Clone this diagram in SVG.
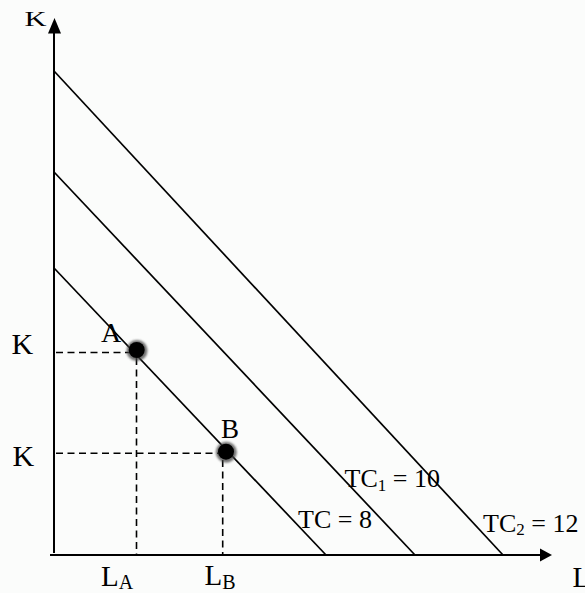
<svg xmlns="http://www.w3.org/2000/svg" width="585" height="593" viewBox="0 0 585 593">
  <defs>
    <filter id="halo" x="-50%" y="-50%" width="200%" height="200%">
      <feGaussianBlur stdDeviation="1.3"/>
    </filter>
    <style>
      .ax { stroke: #000; stroke-width: 2; fill: none; }
      .bl { stroke: #000; stroke-width: 1.7; fill: none; }
      .dash { stroke: #000; stroke-width: 1.6; stroke-dasharray: 7 4.5; fill: none; }
      .t { font-family: "Liberation Serif", "Times New Roman", serif; fill: #000; }
      .arrow { fill: #000; }
    </style>
  </defs>
  <rect width="585" height="593" fill="#fbfcfb"/>

  <g id="axes">
    <line class="ax" x1="54" y1="553" x2="54" y2="32"/>
    <polygon class="arrow" points="54.5,18 48,33.5 61,33.5"/>
    <line class="ax" x1="50" y1="555" x2="541" y2="555"/>
    <polygon class="arrow" points="552,555 540,548.5 540,561.5"/>
  </g>

  <g id="connectors">
    <line id="tc2-line" class="bl" x1="54" y1="71" x2="503" y2="555"/>
    <line id="tc1-line" class="bl" x1="54" y1="172" x2="415" y2="555"/>
    <line id="tc-line" class="bl" x1="54" y1="268" x2="326" y2="555"/>
    <line class="dash" x1="56" y1="352.5" x2="132" y2="352.5"/>
    <line class="dash" x1="136.5" y1="358" x2="136.5" y2="554"/>
    <line class="dash" x1="56" y1="453.3" x2="220" y2="453.3"/>
    <line class="dash" x1="222.7" y1="460" x2="222.7" y2="554"/>
  </g>

  <g id="point-A">
    <circle cx="137" cy="350.5" r="10.5" fill="#444" opacity="0.75" filter="url(#halo)"/>
    <circle cx="136.7" cy="350" r="8" fill="#000"/>
    <text class="t" x="101" y="341.7" font-size="28">A</text>
  </g>

  <g id="point-B">
    <circle cx="226.3" cy="452.2" r="10.5" fill="#444" opacity="0.75" filter="url(#halo)"/>
    <circle cx="226" cy="451.7" r="8" fill="#000"/>
    <text class="t" x="221" y="438.3" font-size="27">B</text>
  </g>

  <g id="labels">
    <text class="t" x="24.5" y="26" font-size="20" textLength="22" lengthAdjust="spacingAndGlyphs">K</text>
    <text class="t" x="11.5" y="354.3" font-size="30">K</text>
    <text class="t" x="12.5" y="466" font-size="30">K</text>
    <text class="t" x="101" y="586" font-size="29">L<tspan font-size="20" dy="3">A</tspan></text>
    <text class="t" x="204.5" y="585" font-size="29">L<tspan font-size="20" dy="3.5">B</tspan></text>
    <text class="t" x="572.5" y="587" font-size="29">L</text>
    <text class="t" x="298" y="528.3" font-size="26">TC = 8</text>
    <text class="t" x="344.5" y="486.7" font-size="26">TC<tspan font-size="17" dy="4">1</tspan><tspan dy="-4"> = 10</tspan></text>
    <text class="t" x="483" y="531.7" font-size="26">TC<tspan font-size="17" dy="3.5">2</tspan><tspan dy="-3.5"> = 12</tspan></text>
  </g>
</svg>
